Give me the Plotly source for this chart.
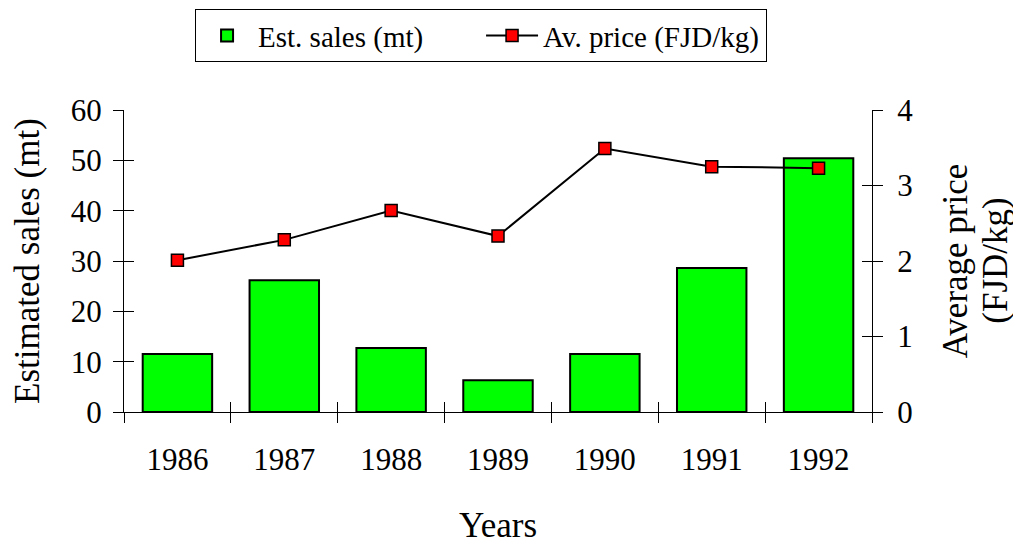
import plotly.graph_objects as go

years = ["1986", "1987", "1988", "1989", "1990", "1991", "1992"]
est_sales = [11.5, 26.2, 12.7, 6.3, 11.5, 28.6, 50.4]
av_price = [2.01, 2.28, 2.67, 2.33, 3.49, 3.25, 3.23]
sales_ticks = [0, 10, 20, 30, 40, 50, 60]
price_ticks = [0, 1, 2, 3, 4]

font_name = "Liberation Serif"
green = "#00FF00"
red = "#FF0000"

fig = go.Figure()

fig.add_trace(go.Bar(
    name="Est. sales (mt)", x=years, y=est_sales, width=0.65,
    marker=dict(color=green, line=dict(color="black", width=2)),
))

fig.add_trace(go.Scatter(
    name="Av. price (FJD/kg)", x=years, y=av_price, yaxis="y2",
    mode="lines+markers",
    line=dict(color="black", width=2),
    marker=dict(symbol="square", size=12, color=red, line=dict(color="black", width=1.5)),
))

# invisible helpers so the overlay axes can draw the inward half of each tick
fig.add_trace(go.Scatter(x=years, y=[None] * len(years), xaxis="x2", yaxis="y3",
                         showlegend=False, hoverinfo="skip"))
fig.add_trace(go.Scatter(x=years, y=[None] * len(years), xaxis="x2", yaxis="y4",
                         showlegend=False, hoverinfo="skip"))

axis_common = dict(showline=True, linecolor="black", linewidth=1, showgrid=False,
                   zeroline=False, tickcolor="black", ticklen=10, tickwidth=1,
                   automargin=False)

# the page body adds an 8px offset, margins below account for it
fig.update_layout(
    width=1021, height=545,
    margin=dict(l=116, r=157, t=102, b=141, autoexpand=False),
    paper_bgcolor="white", plot_bgcolor="white",
    font=dict(family=font_name, size=31, color="black"),
    xaxis=dict(
        type="category", categoryarray=years, range=[-0.5, 6.5],
        tickson="boundaries", ticks="outside", ticklabelstandoff=20,
        title=dict(text="Years", font=dict(size=35), standoff=36),
        **axis_common
    ),
    xaxis2=dict(
        type="category", categoryarray=years, range=[-0.5, 6.5],
        overlaying="x", anchor="y", tickson="boundaries", ticks="inside",
        showticklabels=False, **axis_common
    ),
    yaxis=dict(
        range=[0, 60], tickvals=sales_ticks, ticks="outside", ticklabelstandoff=5,
        title=dict(text="Estimated sales (mt)", font=dict(size=35), standoff=22),
        **axis_common
    ),
    yaxis2=dict(
        range=[0, 4], tickvals=price_ticks, overlaying="y", side="right",
        ticks="outside", ticklabelstandoff=8,
        title=dict(text="Average price", font=dict(size=35), standoff=30),
        **axis_common
    ),
    yaxis3=dict(
        range=[0, 60], tickvals=sales_ticks, overlaying="y", anchor="x2", side="left",
        ticks="inside", showticklabels=False, **axis_common
    ),
    yaxis4=dict(
        range=[0, 4], tickvals=price_ticks, overlaying="y", anchor="x2", side="right",
        ticks="inside", showticklabels=False, **axis_common
    ),
    legend=dict(
        orientation="h", x=0.095, xanchor="left", y=1.334, yanchor="top",
        bordercolor="black", borderwidth=1, bgcolor="white",
        font=dict(size=29), itemwidth=52, entrywidth=218,
    ),
    showlegend=True,
)

# second line of the right axis title, set closer than the default line height
fig.add_annotation(
    text="(FJD/kg)", textangle=-90, showarrow=False,
    xref="paper", yref="paper", x=1.164, y=0.5, xanchor="center", yanchor="middle",
    font=dict(size=35),
)

fig.write_html("out.html")
